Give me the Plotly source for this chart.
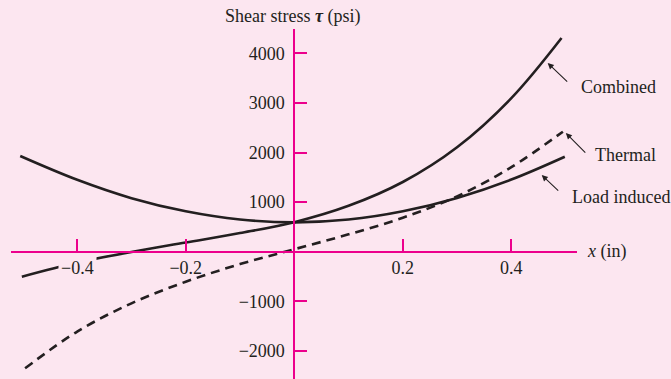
import plotly.graph_objects as go

# Shear stress along the section, x in inches, tau in psi
x_load = [-0.505, -0.4, -0.3, -0.2, -0.1, 0.0, 0.1, 0.2, 0.3, 0.4, 0.4985]
tau_load = [1930, 1450, 1080, 815, 650, 592, 648, 815, 1085, 1455, 1915]

x_thermal = [-0.496, -0.4, -0.3, -0.2, -0.1, 0.0, 0.1, 0.2, 0.3, 0.4, 0.495]
tau_thermal = [-2350, -1610, -1040, -605, -250, 50, 350, 685, 1115, 1705, 2420]

x_combined = [-0.502, -0.4, -0.3, -0.2, -0.1, 0.0, 0.1, 0.2, 0.3, 0.4, 0.4925]
tau_combined = [-505, -219, -4, 186, 376, 596, 926, 1406, 2106, 3096, 4308]

x_ticks = [-0.4, -0.2, 0.2, 0.4]
x_ticktext = ["", "\u22120.2", "0.2", "0.4"]
y_ticks = [-2000, -1000, 1000, 2000, 3000, 4000]

x_range = [-0.522, 0.521]
y_range = [-2566, 4490]

BG = "#fce6f0"
MAGENTA = "#ec008c"
INK = "#231f20"
FONT = "Liberation Serif"

fig = go.Figure()
fig.add_trace(go.Scatter(x=x_load, y=tau_load, mode="lines", line_shape="spline",
                         line=dict(color=INK, width=2.6), name="Load induced"))
fig.add_trace(go.Scatter(x=x_thermal, y=tau_thermal, mode="lines", line_shape="spline",
                         line=dict(color=INK, width=2.6, dash="9px,6px"), name="Thermal"))
fig.add_trace(go.Scatter(x=x_combined, y=tau_combined, mode="lines", line_shape="spline",
                         line=dict(color=INK, width=2.6), name="Combined"))

x0_frac = (0 - x_range[0]) / (x_range[1] - x_range[0])
y0_frac = (0 - y_range[0]) / (y_range[1] - y_range[0])

fig.update_layout(
    width=671, height=379,
    margin=dict(l=11, r=94, t=29, b=0),
    paper_bgcolor=BG, plot_bgcolor=BG,
    showlegend=False,
    font=dict(family=FONT, size=18, color=INK),
    xaxis=dict(range=x_range, anchor="free", position=y0_frac,
               showline=True, linecolor=MAGENTA, linewidth=1.6,
               showgrid=False, zeroline=False,
               ticks="inside", ticklen=12, tickwidth=1.6, tickcolor=MAGENTA,
               tickvals=x_ticks, ticktext=x_ticktext,
               tickfont=dict(family=FONT, size=18, color=INK)),
    yaxis=dict(range=y_range, anchor="free", position=x0_frac,
               showline=True, linecolor=MAGENTA, linewidth=1.6,
               showgrid=False, zeroline=False,
               ticks="inside", ticklen=12, tickwidth=1.6, tickcolor=MAGENTA,
               tickvals=y_ticks, tickformat="d", ticklabelstandoff=5,
               tickfont=dict(family=FONT, size=18, color=INK)),
)

# -0.4 label sits on a patch of background, interrupting the combined curve
fig.add_annotation(x=-0.4, y=0, xref="x", yref="y", yshift=-16,
                   text="\u22120.4", showarrow=False, bgcolor=BG, borderpad=2,
                   font=dict(family=FONT, size=18, color=INK))

# Axis titles
fig.add_annotation(x=0.3746, y=1.037, xref="paper", yref="paper",
                   xanchor="left", yanchor="middle", showarrow=False,
                   text="Shear stress <b><i>\u03c4</i></b> (psi)")
fig.add_annotation(x=1.014, y=y0_frac, xref="paper", yref="paper",
                   xanchor="left", yanchor="middle", showarrow=False,
                   text="<i>x</i> (in)")

# Curve labels with leader arrows
labels = [
    ("Combined", 1.0035, 0.834, 0.467, 3804, 21, 20),
    ("Thermal", 1.028, 0.640, 0.5004, 2393, 21, 21),
    ("Load induced", 0.9876, 0.520, 0.456, 1546, 18, 17),
]
for text, tx, ty, ax_tip, ay_tip, dx, dy in labels:
    fig.add_annotation(x=tx, y=ty, xref="paper", yref="paper",
                       xanchor="left", yanchor="middle", showarrow=False, text=text)
    fig.add_annotation(x=ax_tip, y=ay_tip, xref="x", yref="y", text="",
                       showarrow=True, ax=dx, ay=dy, arrowhead=2, arrowsize=1.1,
                       arrowwidth=1.1, arrowcolor=INK, standoff=0)

fig.write_html("out.html")
